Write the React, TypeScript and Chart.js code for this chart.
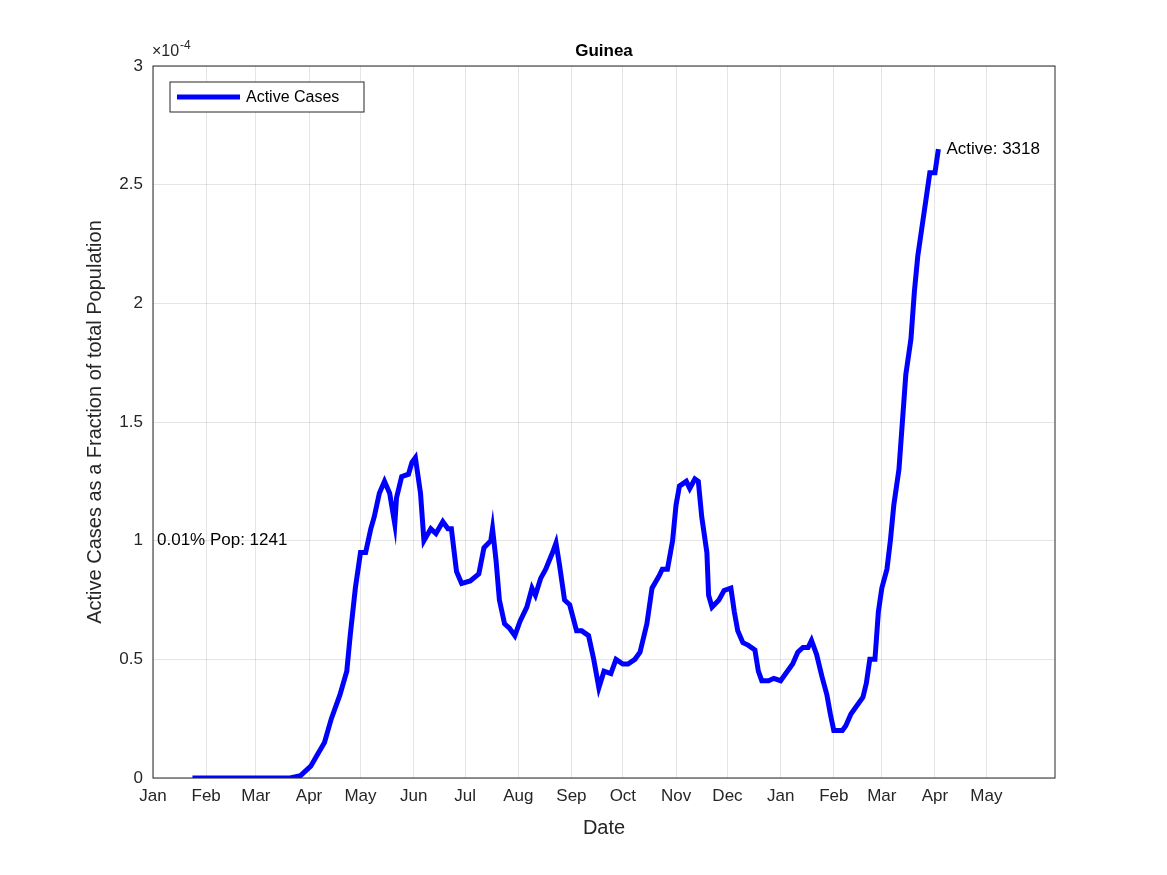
import { useEffect, useRef } from "react";
import { Chart, registerables } from "chart.js";

Chart.register(...registerables);

// days since 1 Jan 2020
const days = [23, 80, 86, 92, 96, 100, 104, 109, 113, 115, 118, 121, 124, 127, 129, 132, 135, 138, 141, 142, 145, 149, 151, 153, 156, 158, 162, 165, 169, 172, 174, 177, 180, 185, 190, 193, 197, 198, 200, 202, 205, 208, 211, 214, 218, 221, 223, 226, 229, 233, 235, 237, 240, 243, 247, 250, 254, 257, 260, 263, 267, 270, 274, 277, 281, 284, 288, 291, 295, 297, 300, 303, 305, 307, 311, 313, 316, 318, 320, 323, 324, 326, 330, 333, 337, 339, 341, 344, 347, 351, 353, 355, 359, 362, 366, 369, 373, 376, 379, 382, 384, 387, 390, 393, 395, 397, 402, 404, 407, 410, 414, 416, 418, 421, 423, 425, 428, 430, 432, 435, 437, 439, 442, 444, 446, 449, 451, 453, 456, 458];
// active cases as fraction of population (x 1e-4)
const active = [0, 0, 0.01, 0.05, 0.1, 0.15, 0.25, 0.35, 0.45, 0.6, 0.8, 0.95, 0.95, 1.05, 1.1, 1.2, 1.25, 1.2, 1.07, 1.18, 1.27, 1.28, 1.33, 1.35, 1.2, 1.0, 1.05, 1.03, 1.08, 1.05, 1.05, 0.87, 0.82, 0.83, 0.86, 0.97, 1.0, 1.05, 0.92, 0.75, 0.65, 0.63, 0.6, 0.66, 0.72, 0.8, 0.77, 0.84, 0.88, 0.95, 0.99, 0.9, 0.75, 0.73, 0.62, 0.62, 0.6, 0.5, 0.38, 0.45, 0.44, 0.5, 0.48, 0.48, 0.5, 0.53, 0.65, 0.8, 0.85, 0.88, 0.88, 1.0, 1.15, 1.23, 1.25, 1.22, 1.26, 1.25, 1.1, 0.95, 0.77, 0.72, 0.75, 0.79, 0.8, 0.7, 0.62, 0.57, 0.56, 0.54, 0.45, 0.41, 0.41, 0.42, 0.41, 0.44, 0.48, 0.53, 0.55, 0.55, 0.58, 0.52, 0.43, 0.35, 0.27, 0.2, 0.2, 0.22, 0.27, 0.3, 0.34, 0.4, 0.5, 0.5, 0.7, 0.8, 0.88, 1.0, 1.15, 1.3, 1.5, 1.7, 1.85, 2.05, 2.2, 2.35, 2.45, 2.55, 2.55, 2.65];

const monthDays = [0, 31, 60, 91, 121, 152, 182, 213, 244, 274, 305, 335, 366, 397, 425, 456, 486];
const monthLabels = ["Jan", "Feb", "Mar", "Apr", "May", "Jun", "Jul", "Aug", "Sep", "Oct", "Nov", "Dec", "Jan", "Feb", "Mar", "Apr", "May"];
const yTicks = [0, 0.5, 1, 1.5, 2, 2.5, 3];

const FONT = "'Liberation Sans', Arial, sans-serif";

const overlay = {
  id: "overlay",
  afterDraw(chart: any) {
    const { ctx, chartArea: a, scales } = chart;
    ctx.save();
    ctx.strokeStyle = "#262626";
    ctx.lineWidth = 1;
    ctx.strokeRect(a.left, a.top, a.right - a.left, a.bottom - a.top);
    ctx.fillStyle = "#000";
    ctx.font = `bold 17px ${FONT}`;
    ctx.textAlign = "center";
    ctx.textBaseline = "middle";
    ctx.fillText("Guinea", (a.left + a.right) / 2, 51);
    ctx.fillStyle = "#262626";
    ctx.font = `20px ${FONT}`;
    ctx.fillText("Date", (a.left + a.right) / 2, 828);
    ctx.save();
    ctx.translate(95, (a.top + a.bottom) / 2);
    ctx.rotate(-Math.PI / 2);
    ctx.fillText("Active Cases as a Fraction of total Population", 0, 0);
    ctx.restore();
    ctx.font = `16px ${FONT}`;
    ctx.textAlign = "left";
    ctx.fillText("\u00d710", 152, 52);
    ctx.font = `12px ${FONT}`;
    ctx.fillText("-4", 180, 46);
    // annotations
    ctx.fillStyle = "#000";
    ctx.font = `17px ${FONT}`;
    ctx.fillText("0.01% Pop: 1241", a.left + 4, scales.y.getPixelForValue(1));
    const lx = scales.x.getPixelForValue(days[days.length - 1]);
    const ly = scales.y.getPixelForValue(active[active.length - 1]);
    ctx.fillText("Active: 3318", lx + 8, ly);
    // legend
    ctx.fillStyle = "#fff";
    ctx.fillRect(170, 82, 194, 30);
    ctx.strokeStyle = "#262626";
    ctx.strokeRect(170, 82, 194, 30);
    ctx.strokeStyle = "#0000ff";
    ctx.lineWidth = 5;
    ctx.beginPath();
    ctx.moveTo(177, 97);
    ctx.lineTo(240, 97);
    ctx.stroke();
    ctx.fillStyle = "#000";
    ctx.font = `16px ${FONT}`;
    ctx.fillText("Active Cases", 246, 98);
    ctx.restore();
  },
};

export default function App() {
  const canvasRef = useRef<HTMLCanvasElement>(null);

  useEffect(() => {
    document.body.style.margin = "0";
    const chart = new Chart(canvasRef.current!, {
      type: "line",
      data: {
        datasets: [
          {
            label: "Active Cases",
            data: days.map((d, i) => ({ x: d, y: active[i] })),
            borderColor: "#0000ff",
            borderWidth: 5,
            pointRadius: 0,
            tension: 0,
          },
        ],
      },
      options: {
        animation: false,
        responsive: false,
        devicePixelRatio: 1,
        layout: { padding: { top: 66, right: 112, left: 0, bottom: 0 } },
        plugins: { legend: { display: false }, title: { display: false }, tooltip: { enabled: false } },
        scales: {
          x: {
            type: "linear",
            min: 0,
            max: 526,
            afterBuildTicks: (s: any) => {
              s.ticks = monthDays.map((v) => ({ value: v }));
            },
            afterFit: (s: any) => {
              s.height = 97;
            },
            ticks: {
              autoSkip: false,
              maxRotation: 0,
              padding: 8,
              color: "#262626",
              font: { family: FONT, size: 17 },
              callback: (v: any) => monthLabels[monthDays.indexOf(Number(v))] ?? "",
            },
            grid: { color: "rgba(0,0,0,0.1)", drawTicks: false },
            border: { display: false },
          },
          y: {
            min: 0,
            max: 3,
            afterBuildTicks: (s: any) => {
              s.ticks = yTicks.map((v) => ({ value: v }));
            },
            afterFit: (s: any) => {
              s.width = 153;
            },
            ticks: {
              padding: 10,
              color: "#262626",
              font: { family: FONT, size: 17 },
              callback: (v: any) => String(v),
            },
            grid: { color: "rgba(0,0,0,0.1)", drawTicks: false },
            border: { display: false },
          },
        },
      },
      plugins: [overlay],
    });
    return () => chart.destroy();
  }, []);

  return (
    <div style={{ width: 1167, height: 875, background: "#fff" }}>
      <canvas ref={canvasRef} width={1167} height={875}></canvas>
    </div>
  );
}
